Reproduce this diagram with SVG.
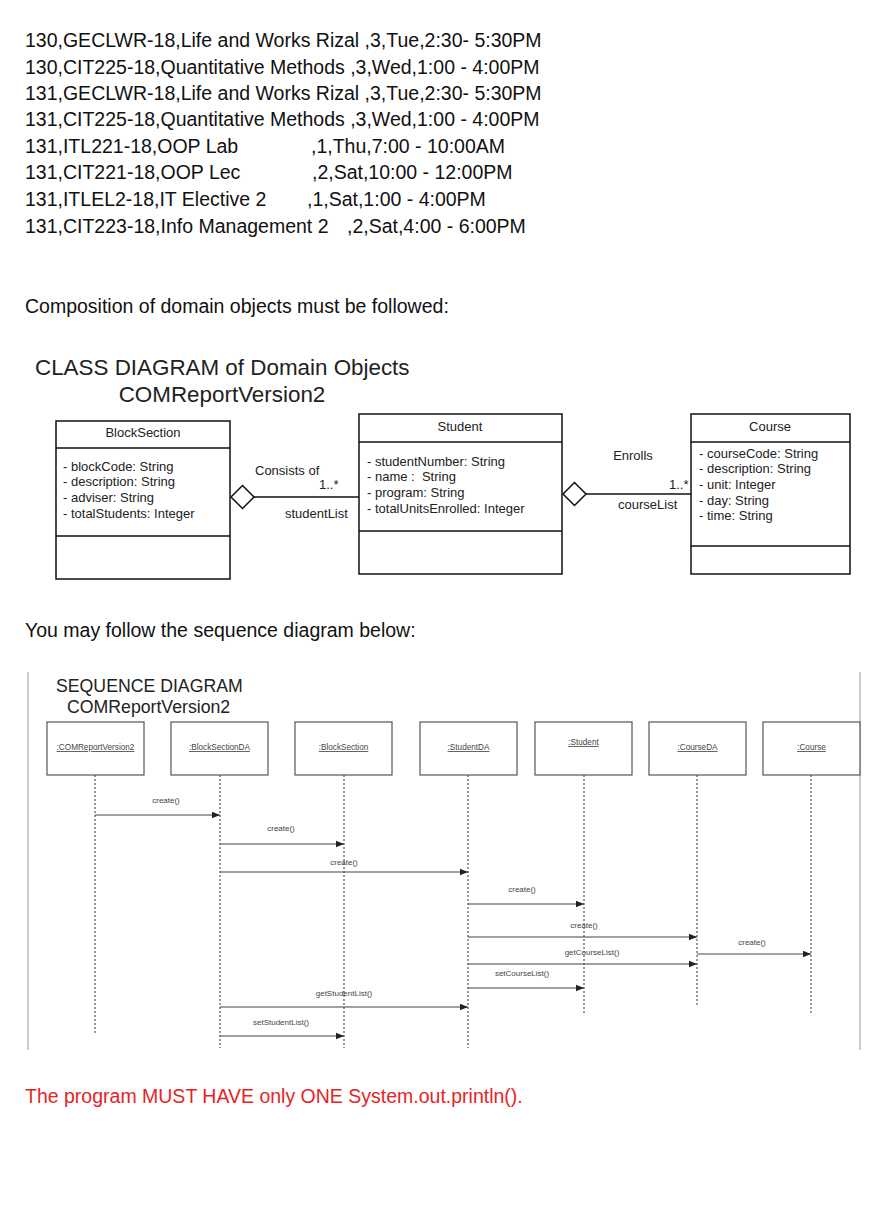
<svg xmlns="http://www.w3.org/2000/svg" width="896" height="1226" viewBox="0 0 896 1226">
<defs>
<style>
text{font-family:"Liberation Sans",Arial,sans-serif;fill:#111}
.big{font-size:19.5px}
.seqt{font-size:17.7px;fill:#222}
.title{font-size:22.4px;fill:#222}
.cls{font-size:13px;fill:#222}
.box{fill:#fff;stroke:#111;stroke-width:1.5}
.sbox{fill:#fff;stroke:#555;stroke-width:1.2}
.lbl{font-size:8.2px;fill:#444;text-decoration:underline}
.msg{font-size:8px;fill:#444}
.life{stroke:#555;stroke-width:1.2;stroke-dasharray:2,2}
.arr{stroke:#444;stroke-width:1.2;fill:none;marker-end:url(#ah)}
.assoc{stroke:#111;stroke-width:1.5;fill:none}
</style>
<marker id="ah" viewBox="0 0 10 10" refX="10" refY="5" markerWidth="8" markerHeight="8" markerUnits="userSpaceOnUse" orient="auto">
<path d="M0,1 L10,5 L0,9 z" fill="#222"/>
</marker>
</defs>
<rect width="896" height="1226" fill="#fff"/>

<g id="schedule">
<text x="25" y="47" class="big">130,GECLWR-18,Life and Works Rizal ,3,Tue,2:30- 5:30PM</text>
<text x="25" y="74" class="big">130,CIT225-18,Quantitative Methods ,3,Wed,1:00 - 4:00PM</text>
<text x="25" y="100" class="big">131,GECLWR-18,Life and Works Rizal ,3,Tue,2:30- 5:30PM</text>
<text x="25" y="126" class="big">131,CIT225-18,Quantitative Methods ,3,Wed,1:00 - 4:00PM</text>
<text y="153" class="big"><tspan x="25">131,ITL221-18,OOP Lab</tspan><tspan x="311">,1,Thu,7:00 - 10:00AM</tspan></text>
<text y="179" class="big"><tspan x="25">131,CIT221-18,OOP Lec</tspan><tspan x="312">,2,Sat,10:00 - 12:00PM</tspan></text>
<text y="206" class="big"><tspan x="25">131,ITLEL2-18,IT Elective 2</tspan><tspan x="307">,1,Sat,1:00 - 4:00PM</tspan></text>
<text y="233" class="big"><tspan x="25">131,CIT223-18,Info Management 2</tspan><tspan x="347">,2,Sat,4:00 - 6:00PM</tspan></text>
</g>

<text id="composition" x="25" y="313" class="big">Composition of domain objects must be followed:</text>

<g id="class-title">
<text x="35" y="375" class="title">CLASS DIAGRAM of Domain Objects</text>
<text x="222" y="402" class="title" text-anchor="middle">COMReportVersion2</text>
</g>

<g id="BlockSection">
<rect x="56" y="421" width="174" height="158" class="box"/>
<line x1="56" y1="448" x2="230" y2="448" class="assoc"/>
<line x1="56" y1="536" x2="230" y2="536" class="assoc"/>
<text x="143" y="437" class="cls" text-anchor="middle">BlockSection</text>
<text x="63" y="471" class="cls">- blockCode: String</text>
<text x="63" y="486" class="cls">- description: String</text>
<text x="63" y="502" class="cls">- adviser: String</text>
<text x="63" y="518" class="cls">- totalStudents: Integer</text>
</g>

<g id="Student">
<rect x="359" y="414" width="203" height="160" class="box"/>
<line x1="359" y1="442" x2="562" y2="442" class="assoc"/>
<line x1="359" y1="531" x2="562" y2="531" class="assoc"/>
<text x="460" y="431" class="cls" text-anchor="middle">Student</text>
<text x="367" y="466" class="cls">- studentNumber: String</text>
<text x="367" y="481" class="cls" xml:space="preserve">- name :  String</text>
<text x="367" y="497" class="cls">- program: String</text>
<text x="367" y="513" class="cls">- totalUnitsEnrolled: Integer</text>
</g>

<g id="Course">
<rect x="691" y="414" width="159" height="160" class="box"/>
<line x1="691" y1="442" x2="850" y2="442" class="assoc"/>
<line x1="691" y1="546" x2="850" y2="546" class="assoc"/>
<text x="770" y="431" class="cls" text-anchor="middle">Course</text>
<text x="699" y="458" class="cls">- courseCode: String</text>
<text x="699" y="473" class="cls">- description: String</text>
<text x="699" y="489" class="cls">- unit: Integer</text>
<text x="699" y="505" class="cls">- day: String</text>
<text x="699" y="520" class="cls">- time: String</text>
</g>

<g id="class-connectors">
<path d="M231,497 L242.5,485.5 L254,497 L242.5,508.5 Z" class="assoc" fill="#fff"/>
<line x1="254" y1="497" x2="359" y2="497" class="assoc"/>
<text x="255" y="475" class="cls">Consists of</text>
<text x="319" y="489" class="cls">1..*</text>
<text x="285" y="518" class="cls">studentList</text>
<path d="M563,494 L574.5,482.5 L586,494 L574.5,505.5 Z" class="assoc" fill="#fff"/>
<line x1="586" y1="494" x2="691" y2="494" class="assoc"/>
<text x="633" y="460" class="cls" text-anchor="middle">Enrolls</text>
<text x="669" y="489" class="cls">1..*</text>
<text x="618" y="509" class="cls">courseList</text>
</g>

<text id="follow" x="25" y="637" class="big">You may follow the sequence diagram below:</text>

<g id="seq-frame">
<line x1="28" y1="672" x2="28" y2="1050" stroke="#999" stroke-width="1"/>
<line x1="860" y1="672" x2="860" y2="1050" stroke="#999" stroke-width="1"/>
<text x="56" y="692" class="seqt">SEQUENCE DIAGRAM</text>
<text x="67" y="713" class="seqt">COMReportVersion2</text>
</g>

<g id="lifelines">
<line x1="95" y1="775" x2="95" y2="1033" class="life"/>
<line x1="220" y1="775" x2="220" y2="1048" class="life"/>
<line x1="344" y1="775" x2="344" y2="1048" class="life"/>
<line x1="468" y1="775" x2="468" y2="1048" class="life"/>
<line x1="584" y1="775" x2="584" y2="1015" class="life"/>
<line x1="697" y1="775" x2="697" y2="1005" class="life" stroke="#111"/>
<line x1="811" y1="775" x2="811" y2="1015" class="life"/>
</g>

<g id="COMReportVersion2"><rect x="47" y="722" width="97" height="53" class="sbox"/><text x="95.5" y="750" class="lbl" text-anchor="middle">:COMReportVersion2</text></g>
<g id="BlockSectionDA"><rect x="171" y="722" width="97" height="53" class="sbox"/><text x="219.5" y="750" class="lbl" text-anchor="middle">:BlockSectionDA</text></g>
<g id="BlockSectionObj"><rect x="295" y="722" width="97" height="53" class="sbox"/><text x="343.5" y="750" class="lbl" text-anchor="middle">:BlockSection</text></g>
<g id="StudentDA"><rect x="420" y="722" width="97" height="53" class="sbox"/><text x="468.5" y="750" class="lbl" text-anchor="middle">:StudentDA</text></g>
<g id="StudentObj"><rect x="535" y="722" width="97" height="53" class="sbox"/><text x="583.5" y="745" class="lbl" text-anchor="middle">:Student</text></g>
<g id="CourseDA"><rect x="649" y="722" width="97" height="53" class="sbox"/><text x="697.5" y="750" class="lbl" text-anchor="middle">:CourseDA</text></g>
<g id="CourseObj"><rect x="763" y="722" width="97" height="53" class="sbox"/><text x="811.5" y="750" class="lbl" text-anchor="middle">:Course</text></g>

<g id="messages">
<line x1="95" y1="815" x2="220" y2="815" class="arr"/><text x="166" y="803" class="msg" text-anchor="middle">create()</text>
<line x1="220" y1="844" x2="344" y2="844" class="arr"/><text x="281" y="831" class="msg" text-anchor="middle">create()</text>
<line x1="220" y1="872" x2="468" y2="872" class="arr"/><text x="344" y="865" class="msg" text-anchor="middle">create()</text>
<line x1="468" y1="904" x2="584" y2="904" class="arr"/><text x="522" y="892" class="msg" text-anchor="middle">create()</text>
<line x1="468" y1="937" x2="697" y2="937" class="arr"/><text x="584" y="928" class="msg" text-anchor="middle">create()</text>
<line x1="697" y1="954" x2="811" y2="954" class="arr"/><text x="752" y="945" class="msg" text-anchor="middle">create()</text>
<line x1="468" y1="964" x2="697" y2="964" class="arr"/><text x="592" y="955" class="msg" text-anchor="middle">getCourseList()</text>
<line x1="468" y1="988" x2="584" y2="988" class="arr"/><text x="522" y="976" class="msg" text-anchor="middle">setCourseList()</text>
<line x1="220" y1="1007" x2="468" y2="1007" class="arr"/><text x="344" y="996" class="msg" text-anchor="middle">getStudentList()</text>
<line x1="220" y1="1036" x2="344" y2="1036" class="arr"/><text x="281" y="1025" class="msg" text-anchor="middle">setStudentList()</text>
</g>

<text id="note" x="25" y="1103" class="big" style="fill:#e8231f">The program MUST HAVE only ONE System.out.println().</text>
</svg>
